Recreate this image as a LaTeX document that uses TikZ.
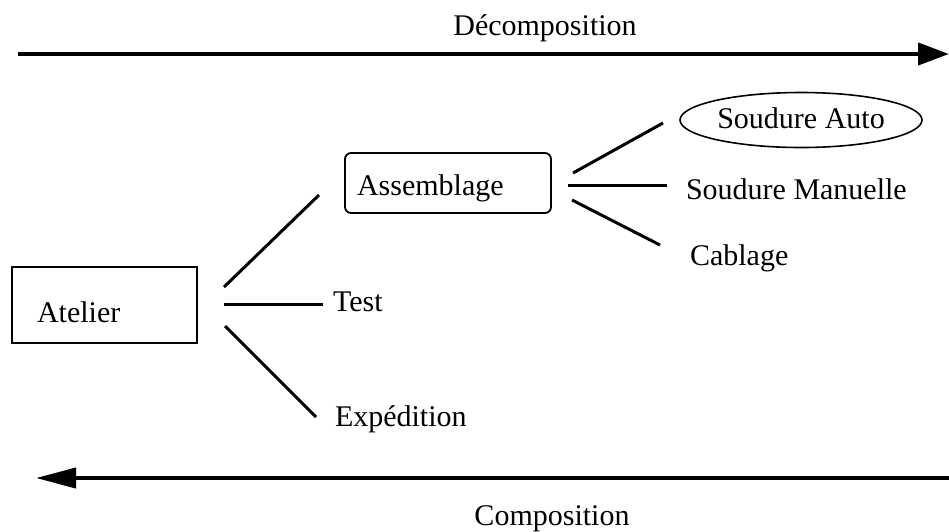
\documentclass[tikz,border=0pt]{standalone}
\usepackage{fontspec}
\setmainfont{Liberation Serif}
\usetikzlibrary{arrows.meta,shapes.geometric,calc}
\begin{document}
\begin{tikzpicture}[x=1pt,y=-1pt,
  every node/.style={font=\fontsize{30}{36}\selectfont, inner sep=0pt, outer sep=0pt},
  lbl/.style={anchor=base west},
  link/.style={line width=3pt},
  flow/.style={line width=4pt, -{Triangle[length=31pt,width=22pt]}},
  flowb/.style={line width=4pt, -{Triangle[length=40pt,width=20pt]}},
  boxa/.style={draw, line width=2pt, align=left, inner xsep=25pt, text width=135pt, text height=55pt, text depth=21pt},
  boxb/.style={draw, line width=1.8pt, rounded corners=6pt, align=left, inner xsep=12pt, text width=182pt, text height=42pt, text depth=18pt},
  ell/.style={draw, ellipse, line width=1.6pt, minimum width=242pt, minimum height=55pt, text height=20pt, text depth=4pt}]
\useasboundingbox (0,0) rectangle (949,531);

% top / bottom flows
\node[lbl, anchor=base] (decomp) at (545,35) {Décomposition};
\coordinate (t1) at (18,54);
\coordinate (t2) at (949,54);
\draw[flow] (t1) -- (t2);
\coordinate (b1) at (949,478);
\coordinate (b2) at (36,478);
\draw[flowb] (b1) -- (b2);
\node[lbl, anchor=base] (comp) at (552,525) {Composition};

% nodes
\node[boxa, anchor=north west] (atelier) at (12,267) {Atelier};
\node[boxb, anchor=north west] (assem) at (345,153) {Assemblage};
\node[lbl] (test) at (333,311) {Test};
\node[lbl] (exped) at (335,426) {Expédition};
\node[ell] (sauto) at (801,120) {Soudure Auto};
\node[lbl] (sman) at (686,199) {Soudure Manuelle};
\node[lbl] (cabl) at (690,265) {Cablage};

% helper points for the horizontal connectors
\coordinate (tA) at ($(atelier.east)+(27,-1)$);
\coordinate (tB) at ($(test.base west)+(-10,0)$);
\coordinate (mA) at ($(assem.east)+(17,2)$);
\coordinate (mB) at ($(sman.base west)+(-19,0)$);

% connectors from Atelier
\draw[link] ($(atelier.east)+(27,-18)$) -- ($(assem.west)+(-26,12)$);
\draw[link] (tA) -- (tA -| tB);
\draw[link] ($(atelier.east)+(28,21)$) -- ($(exped.base west)+(-19,-9)$);

% connectors from Assemblage
\draw[link] ($(assem.east)+(22,-10)$) -- ($(sauto.west)+(-17,3)$);
\draw[link] (mA) -- (mA -| mB);
\draw[link] ($(assem.east)+(21,17)$) -- ($(cabl.base west)+(-30,-20)$);
\end{tikzpicture}
\end{document}
